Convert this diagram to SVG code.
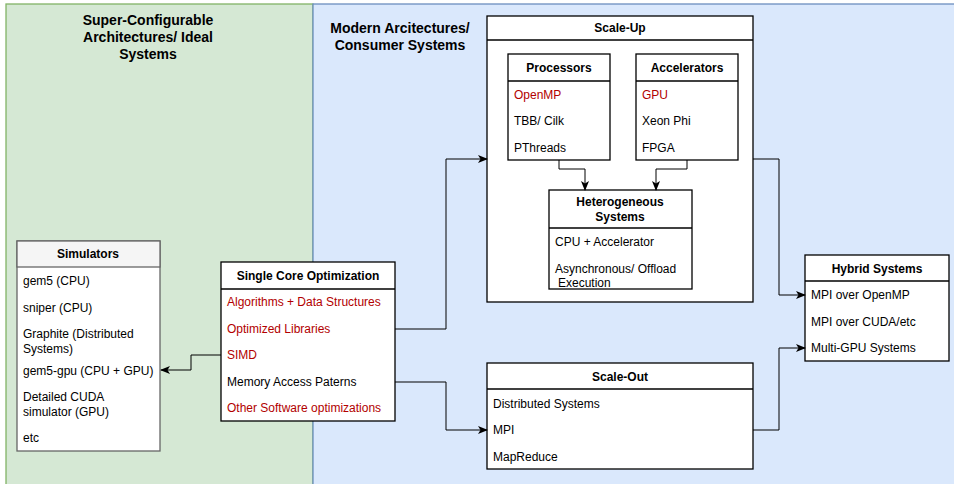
<svg xmlns="http://www.w3.org/2000/svg" width="954" height="484" viewBox="0 0 954 484">
  <style>
    text { font-family: "Liberation Sans", Arial, Helvetica, sans-serif; font-size: 12px; fill: #000; }
    .ttl { font-weight: bold; text-anchor: middle; }
    .zone { font-weight: bold; font-size: 14px; text-anchor: middle; }
    .red { fill: #b20000; }
    .box { fill: #fff; stroke: #000; stroke-width: 1.3; }
    .sep { stroke: #000; stroke-width: 1.3; }
    .gbox { fill: #fff; stroke: #666; stroke-width: 1.3; }
    .ghead { fill: #f5f5f5; stroke: #666; stroke-width: 1.3; }
    .wire { fill: none; stroke: #000; stroke-width: 1; marker-end: url(#arrow); }
  </style>
  <defs>
    <marker id="arrow" viewBox="0 0 10 8" refX="9" refY="4" markerWidth="10" markerHeight="8" markerUnits="userSpaceOnUse" orient="auto">
      <path d="M0,0 L10,4 L0,8 L2.5,4 Z" fill="#000"/>
    </marker>
  </defs>

  <!-- zones -->
  <g id="zone-ideal">
    <rect x="6" y="4" width="307" height="490" fill="#d5e8d4" stroke="#82b366" stroke-width="1.3"/>
    <text class="zone" x="148" y="25">Super-Configurable</text>
    <text class="zone" x="148" y="42">Architectures/ Ideal</text>
    <text class="zone" x="148" y="59">Systems</text>
  </g>
  <g id="zone-modern">
    <rect x="313" y="4" width="650" height="490" fill="#dae8fc" stroke="#6c8ebf" stroke-width="1.3"/>
    <text class="zone" x="400" y="33">Modern Arcitectures/</text>
    <text class="zone" x="400" y="50">Consumer Systems</text>
  </g>

  <!-- Scale-Up container -->
  <g id="scale-up">
    <rect class="box" x="487" y="16" width="266" height="286"/>
    <line class="sep" x1="487" y1="40" x2="753" y2="40"/>
    <text class="ttl" x="620" y="32">Scale-Up</text>
  </g>

  <g id="processors">
    <rect class="box" x="508" y="54" width="102" height="106"/>
    <line class="sep" x1="508" y1="81" x2="610" y2="81"/>
    <text class="ttl" x="559" y="72">Processors</text>
    <text class="red" x="514" y="99">OpenMP</text>
    <text x="514" y="125">TBB/ Cilk</text>
    <text x="514" y="152">PThreads</text>
  </g>

  <g id="accelerators">
    <rect class="box" x="636" y="54" width="102" height="106"/>
    <line class="sep" x1="636" y1="81" x2="738" y2="81"/>
    <text class="ttl" x="687" y="72">Accelerators</text>
    <text class="red" x="642" y="99">GPU</text>
    <text x="642" y="125">Xeon Phi</text>
    <text x="642" y="152">FPGA</text>
  </g>

  <g id="heterogeneous">
    <rect class="box" x="549" y="190" width="143" height="99"/>
    <line class="sep" x1="549" y1="228" x2="692" y2="228"/>
    <text class="ttl" x="620" y="206">Heterogeneous</text>
    <text class="ttl" x="620" y="221">Systems</text>
    <text x="555" y="246">CPU + Accelerator</text>
    <text x="555" y="273">Asynchronous/ Offload</text>
    <text x="558" y="287">Execution</text>
  </g>

  <g id="simulators">
    <rect class="gbox" x="17" y="241" width="143" height="210"/>
    <rect class="ghead" x="17" y="241" width="143" height="26"/>
    <text class="ttl" x="88" y="258">Simulators</text>
    <text x="23" y="285">gem5 (CPU)</text>
    <text x="23" y="312">sniper (CPU)</text>
    <text x="23" y="338">Graphite (Distributed</text>
    <text x="23" y="353">Systems)</text>
    <text x="23" y="375">gem5-gpu (CPU + GPU)</text>
    <text x="23" y="401">Detailed CUDA</text>
    <text x="23" y="416">simulator (GPU)</text>
    <text x="23" y="442">etc</text>
  </g>

  <g id="single-core">
    <rect class="box" x="221" y="262" width="174" height="159"/>
    <line class="sep" x1="221" y1="289" x2="395" y2="289"/>
    <text class="ttl" x="308" y="280">Single Core Optimization</text>
    <text class="red" x="227" y="306">Algorithms + Data Structures</text>
    <text class="red" x="227" y="333">Optimized Libraries</text>
    <text class="red" x="227" y="359">SIMD</text>
    <text x="227" y="386">Memory Access Paterns</text>
    <text class="red" x="227" y="412">Other Software optimizations</text>
  </g>

  <g id="scale-out">
    <rect class="box" x="487" y="363" width="266" height="106"/>
    <line class="sep" x1="487" y1="389" x2="753" y2="389"/>
    <text class="ttl" x="620" y="381">Scale-Out</text>
    <text x="493" y="408">Distributed Systems</text>
    <text x="493" y="434">MPI</text>
    <text x="493" y="461">MapReduce</text>
  </g>

  <g id="hybrid">
    <rect class="box" x="805" y="255" width="144" height="106"/>
    <line class="sep" x1="805" y1="281" x2="949" y2="281"/>
    <text class="ttl" x="877" y="273">Hybrid Systems</text>
    <text x="811" y="299">MPI over OpenMP</text>
    <text x="811" y="326">MPI over CUDA/etc</text>
    <text x="811" y="352">Multi-GPU Systems</text>
  </g>

  <!-- connectors -->
  <g id="connectors">
    <path class="wire" d="M559,160 V169 H585 V190"/>
    <path class="wire" d="M687,160 V169 H656 V190"/>
    <path class="wire" d="M221,355 H191 V370 H161"/>
    <path class="wire" d="M395,329 H446 V159 H487"/>
    <path class="wire" d="M395,382 H446 V430 H487"/>
    <path class="wire" d="M753,159 H779 V295 H805"/>
    <path class="wire" d="M753,430 H779 V348 H805"/>
  </g>
</svg>
